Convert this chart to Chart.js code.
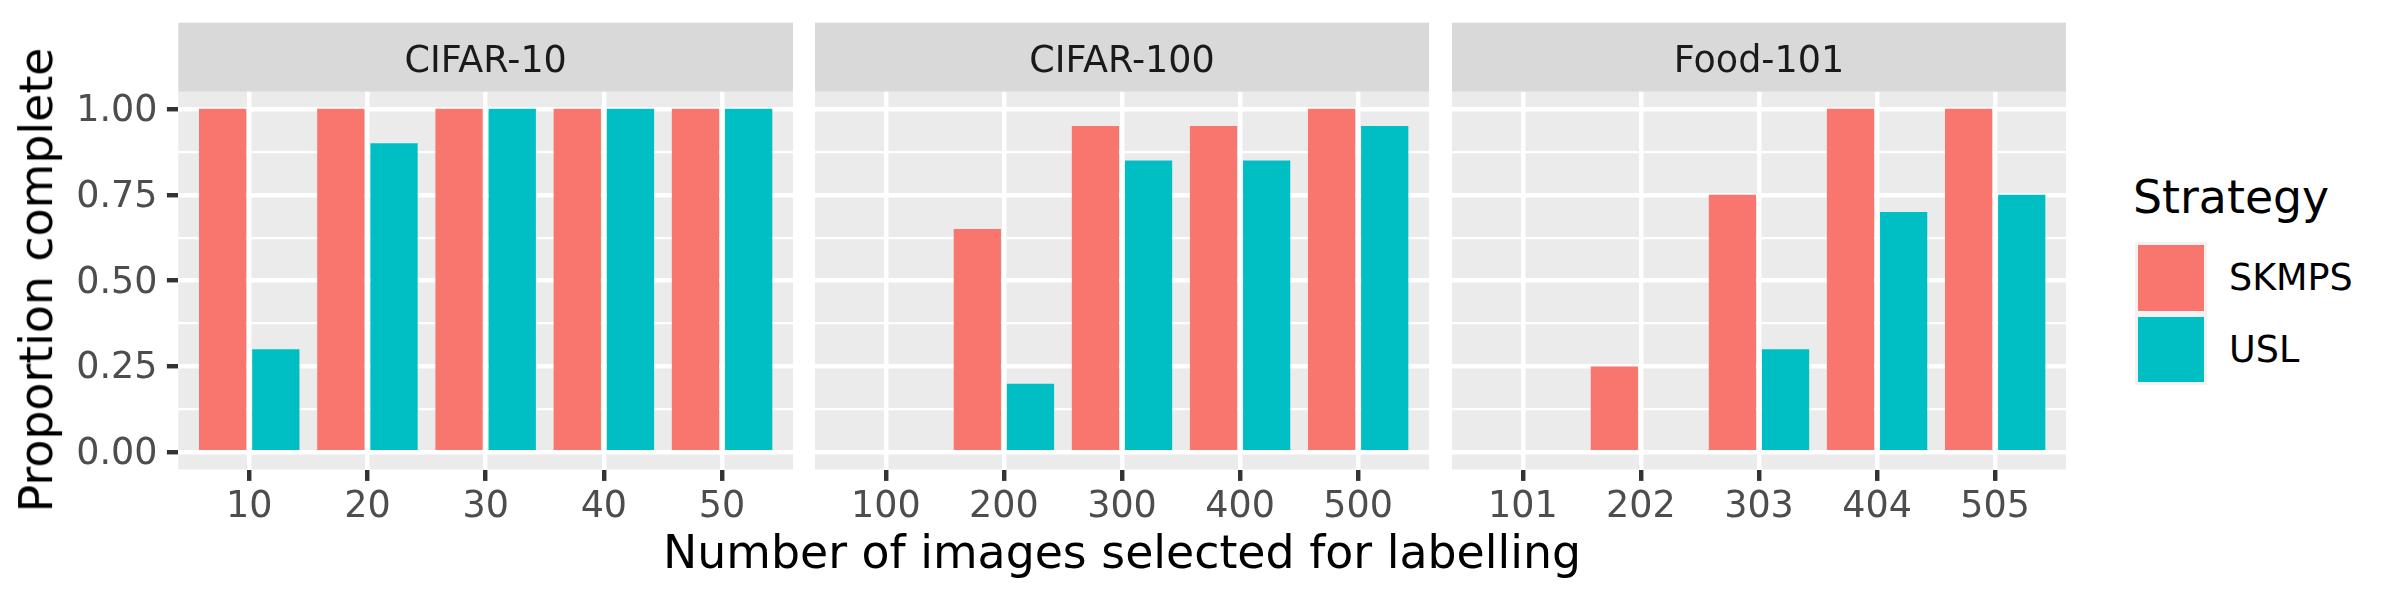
<!DOCTYPE html>
<html><head><meta charset="utf-8">
<script src="https://cdn.jsdelivr.net/npm/chart.js@4"></script>
<style>
html,body{margin:0;padding:0;background:#fff;}
#wrap{position:relative;width:2400px;height:600px;overflow:hidden;font-family:'DejaVu Sans',sans-serif;background:#fff;}
canvas{position:absolute;top:0;}
.t{position:absolute;white-space:nowrap;line-height:1;font-family:'DejaVu Sans',sans-serif;}
.k{position:absolute;}
</style></head><body>
<div id="wrap">
<canvas id="c1" width="793" height="600" style="left:0px;width:793px;height:600px"></canvas>
<canvas id="c2" width="614" height="600" style="left:815px;width:614px;height:600px"></canvas>
<canvas id="c3" width="614" height="600" style="left:1452px;width:614px;height:600px"></canvas>
<div class="t" style="left:37.45px;top:280px;font-size:45.8px;color:#000;transform:translate(-50%,-50%) rotate(-90deg);">Proportion complete</div>
<div class="t" style="left:178px;width:1888px;text-align:center;top:529.5px;font-size:45.8px;color:#000;">Number of images selected for labelling</div>
<div class="t" style="left:2133px;top:174.5px;font-size:45.8px;color:#000;">Strategy</div>
<div class="k" style="left:2135px;top:241.7px;width:72px;height:71.6px;background:#F2F2F2;"></div>
<div class="k" style="left:2138px;top:245px;width:66px;height:65.5px;background:#F8766D;"></div>
<div class="k" style="left:2135px;top:313.3px;width:72px;height:71.7px;background:#F2F2F2;"></div>
<div class="k" style="left:2138px;top:316.7px;width:66px;height:65.5px;background:#00BFC4;"></div>
<div class="t" style="left:2229px;top:259.7px;font-size:36.5px;color:#000;">SKMPS</div>
<div class="t" style="left:2229px;top:331.9px;font-size:36.5px;color:#000;">USL</div>
</div>
<script>
// ---- data ----
const panelTitles = ['CIFAR-10', 'CIFAR-100', 'Food-101'];
const catsCifar10 = ['10', '20', '30', '40', '50'];
const catsCifar100 = ['100', '200', '300', '400', '500'];
const catsFood101 = ['101', '202', '303', '404', '505'];
const skmpsCifar10 = [1.00, 1.00, 1.00, 1.00, 1.00];
const uslCifar10 = [0.30, 0.90, 1.00, 1.00, 1.00];
const skmpsCifar100 = [0.00, 0.65, 0.95, 0.95, 1.00];
const uslCifar100 = [0.00, 0.20, 0.85, 0.85, 0.95];
const skmpsFood101 = [0.00, 0.25, 0.75, 1.00, 1.00];
const uslFood101 = [0.00, 0.00, 0.30, 0.70, 0.75];
const seriesNames = ['SKMPS', 'USL'];
const seriesColors = ['#F8766D', '#00BFC4'];
const yMajorTicks = [0, 0.25, 0.5, 0.75, 1];
const yMinorTicks = [0.125, 0.375, 0.625, 0.875];
const yLimits = [-0.05, 1.05];

const isMajor = v => yMajorTicks.some(m => Math.abs(m - v) < 1e-9);
const yGrid = yMajorTicks.concat(yMinorTicks).sort((a, b) => a - b);

const stripPlugin = {
  id: 'strip',
  beforeDraw(chart, args, opts) {
    const {ctx, chartArea: a} = chart;
    ctx.save();
    ctx.fillStyle = '#EBEBEB';
    ctx.fillRect(a.left, a.top, a.right - a.left, a.bottom - a.top);
    ctx.fillStyle = '#D9D9D9';
    ctx.fillRect(a.left, a.top - 69, a.right - a.left, 69);
    ctx.fillStyle = '#1A1A1A';
    ctx.font = '36.5px "DejaVu Sans"';
    ctx.textAlign = 'center';
    ctx.textBaseline = 'alphabetic';
    ctx.fillText(opts.text, (a.left + a.right) / 2, a.top - 69 + 49.1);
    ctx.restore();
  }
};

function makePanel(id, title, cats, skmps, usl, showY) {
  const mk = (vals) => vals.map((v, i) => ({x: i, y: v}));
  new Chart(document.getElementById(id), {
    type: 'bar',
    data: {
      datasets: [
        {label: seriesNames[0], data: mk(skmps), backgroundColor: seriesColors[0], borderWidth: 0, categoryPercentage: 0.9, barPercentage: 0.8889},
        {label: seriesNames[1], data: mk(usl), backgroundColor: seriesColors[1], borderWidth: 0, categoryPercentage: 0.9, barPercentage: 0.8889}
      ]
    },
    options: {
      responsive: false,
      animation: false,
      devicePixelRatio: 1,
      layout: {padding: {top: 91.7, left: 0, right: 0, bottom: 0}},
      plugins: {legend: {display: false}, tooltip: {enabled: false}, title: {display: false}, strip: {text: title}},
      scales: {
        x: {
          type: 'linear', min: -0.6, max: cats.length - 1 + 0.6, offset: false,
          afterBuildTicks: s => { s.ticks = cats.map((c, i) => ({value: i})); },
          afterFit: s => { s.height = 130.5; },
          border: {display: false},
          grid: {offset: false, color: '#FFFFFF', lineWidth: 4.44, drawTicks: true, tickLength: 11.4, tickWidth: 4.44, tickColor: '#333333'},
          ticks: {autoSkip: false, maxRotation: 0, minRotation: 0, padding: 8, color: '#4D4D4D',
                  font: {family: 'DejaVu Sans', size: 36.5, lineHeight: 1},
                  callback: v => cats[Math.round(v)]}
        },
        y: {
          type: 'linear', min: yLimits[0], max: yLimits[1],
          afterBuildTicks: s => { s.ticks = yGrid.map(v => ({value: v})); },
          afterFit: s => { s.width = showY ? 178.3 : 0; },
          border: {display: false},
          grid: {color: '#FFFFFF', lineWidth: c => (c.tick && isMajor(c.tick.value)) ? 4.44 : 2.22,
                 drawTicks: showY, tickLength: 11.4, tickWidth: 4.44,
                 tickColor: c => (c.tick && isMajor(c.tick.value)) ? '#333333' : 'rgba(0,0,0,0)'},
          ticks: {display: showY, autoSkip: false, padding: 9.4, labelOffset: 2.5, color: '#4D4D4D',
                  font: {family: 'DejaVu Sans', size: 36.5},
                  callback: v => isMajor(v) ? v.toFixed(2) : ''}
        }
      }
    },
    plugins: [stripPlugin]
  });
}

makePanel('c1', panelTitles[0], catsCifar10, skmpsCifar10, uslCifar10, true);
makePanel('c2', panelTitles[1], catsCifar100, skmpsCifar100, uslCifar100, false);
makePanel('c3', panelTitles[2], catsFood101, skmpsFood101, uslFood101, false);
</script>
</body></html>
